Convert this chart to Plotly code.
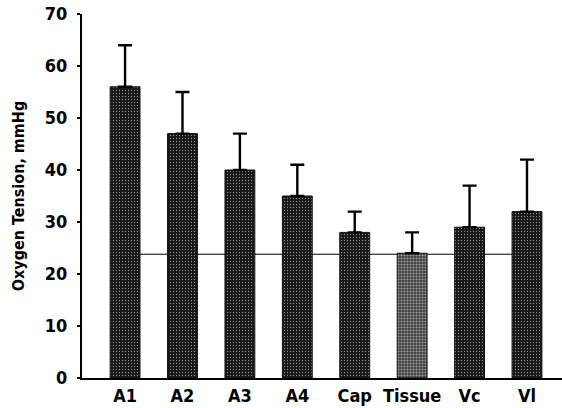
import plotly.graph_objects as go

categories = ["A1", "A2", "A3", "A4", "Cap", "Tissue", "Vc", "Vl"]
means = [56, 47, 40, 35, 28, 24, 29, 32]
upper_err = [8, 8, 7, 6, 4, 4, 8, 10]
tissue_level = 23.8
y_ticks = [0, 10, 20, 30, 40, 50, 60, 70]

font_fam = "DejaVu Sans Condensed, Liberation Sans Narrow, Arial Narrow, sans-serif"

bg = ["#3e3e3e" if c == "Tissue" else "#161616" for c in categories]
fg = ["#b4b4b4" if c == "Tissue" else "#444444" for c in categories]
sol = [0.4 if c == "Tissue" else 0.15 for c in categories]

fig = go.Figure()
fig.add_trace(go.Bar(
    x=list(range(len(categories))), y=means, width=0.52,
    marker=dict(color=bg, line=dict(color="#111", width=1),
                pattern=dict(shape=".", fgcolor=fg, bgcolor=bg, size=3, solidity=sol)),
    error_y=dict(type="data", array=upper_err, arrayminus=[0] * len(means), symmetric=False,
                 color="#000", thickness=2.4, width=7),
    showlegend=False,
))

n = len(categories)
fig.add_shape(type="line", xref="x", yref="y", layer="below",
              x0=0.26, x1=n - 1 - 0.26, y0=tissue_level, y1=tissue_level,
              line=dict(color="#000", width=1))

fig.update_layout(
    width=562, height=408,
    margin=dict(l=82, r=0, t=14, b=30),
    paper_bgcolor="white", plot_bgcolor="white",
    font=dict(family=font_fam, color="#000"),
    xaxis=dict(range=[-0.75, 7.61], tickvals=list(range(n)), ticktext=categories,
               showgrid=False, zeroline=False, showline=True, linecolor="#000", linewidth=2,
               ticks="", tickfont=dict(size=18, family=font_fam, weight="bold")),
    yaxis=dict(range=[0, 70], tickvals=y_ticks, showgrid=False, zeroline=False,
               showline=True, linecolor="#000", linewidth=2, ticks="outside", ticklen=3,
               tickwidth=1.5, tickcolor="#000", ticklabelstandoff=6,
               tickfont=dict(size=18, family=font_fam, weight="bold"),
               title=dict(text="Oxygen Tension, mmHg", standoff=16,
                          font=dict(size=16, family=font_fam, weight="bold"))),
)

fig.write_html("out.html")
